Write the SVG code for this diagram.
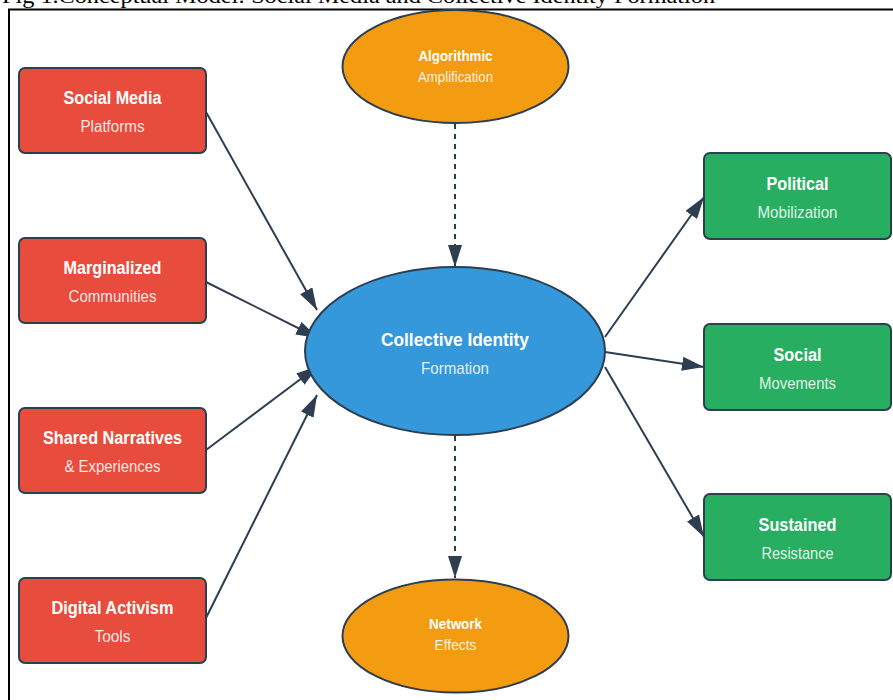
<svg xmlns="http://www.w3.org/2000/svg" width="893" height="700" viewBox="0 0 893 700">
<style>
.frame{fill:none;stroke:#000;stroke-width:2}
.caption{font-family:"Liberation Serif","Times New Roman",serif;font-size:20px;fill:#000}
.box{stroke:#2c3e50;stroke-width:2}
.red{fill:#e74c3c}
.green{fill:#27ae60}
.blue{fill:#3498db;stroke:#2c3e50;stroke-width:2}
.orange{fill:#f39c12;stroke:#2c3e50;stroke-width:2}
.t{font-family:"Liberation Sans",Arial,sans-serif;fill:#fff;text-anchor:middle;font-weight:bold}
.s{font-family:"Liberation Sans",Arial,sans-serif;fill:#fff;fill-opacity:0.88;text-anchor:middle}
.bt{font-size:18px}
.bs{font-size:16.5px}
.et{font-size:14px}
.es{font-size:14px}
.ct{font-size:19px}
.cs{font-size:17px}
.edge{stroke:#2c3e50;stroke-width:2;fill:none}
.dash{stroke-dasharray:5,5}
</style>
<defs>
<marker id="arrow" markerUnits="userSpaceOnUse" markerWidth="22" markerHeight="14" viewBox="0 0 11 7" refX="11" refY="3.5" orient="auto">
<polygon points="0 0, 11 3.5, 0 7" fill="#2c3e50"/>
</marker>
</defs>
<rect width="893" height="700" fill="#fff"/>
<text class="caption" x="2" y="3" textLength="713" lengthAdjust="spacingAndGlyphs">Fig 1.Conceptual Model: Social Media and Collective Identity Formation</text>
<path class="frame" d="M9 701 L9 9.5 L894 9.5"/>

<g id="connectors">
<line class="edge" x1="206" y1="112" x2="317" y2="310" marker-end="url(#arrow)"/>
<line class="edge" x1="206" y1="282" x2="318" y2="338" marker-end="url(#arrow)"/>
<line class="edge" x1="206" y1="450" x2="318" y2="366" marker-end="url(#arrow)"/>
<line class="edge" x1="206" y1="618" x2="317" y2="395" marker-end="url(#arrow)"/>
<line class="edge" x1="605" y1="337" x2="704" y2="197" marker-end="url(#arrow)"/>
<line class="edge" x1="605" y1="352" x2="704" y2="367" marker-end="url(#arrow)"/>
<line class="edge" x1="605" y1="367" x2="704" y2="537" marker-end="url(#arrow)"/>
<line class="edge dash" x1="455" y1="124" x2="455" y2="267" marker-end="url(#arrow)"/>
<line class="edge dash" x1="455" y1="436" x2="455" y2="578" marker-end="url(#arrow)"/>
</g>

<g id="node-social-media">
<rect class="box red" x="19" y="68" width="187" height="85" rx="6"/>
<text class="t bt" x="112.5" y="104" textLength="98" lengthAdjust="spacingAndGlyphs">Social Media</text>
<text class="s bs" x="112.5" y="132" textLength="64" lengthAdjust="spacingAndGlyphs">Platforms</text>
</g>
<g id="node-marginalized">
<rect class="box red" x="19" y="238" width="187" height="85" rx="6"/>
<text class="t bt" x="112.5" y="274" textLength="98" lengthAdjust="spacingAndGlyphs">Marginalized</text>
<text class="s bs" x="112.5" y="302" textLength="88" lengthAdjust="spacingAndGlyphs">Communities</text>
</g>
<g id="node-shared-narratives">
<rect class="box red" x="19" y="408" width="187" height="85" rx="6"/>
<text class="t bt" x="112.5" y="444" textLength="139" lengthAdjust="spacingAndGlyphs">Shared Narratives</text>
<text class="s bs" x="112.5" y="472" textLength="96" lengthAdjust="spacingAndGlyphs">&amp; Experiences</text>
</g>
<g id="node-digital-activism">
<rect class="box red" x="19" y="578" width="187" height="85" rx="6"/>
<text class="t bt" x="112.5" y="614" textLength="122" lengthAdjust="spacingAndGlyphs">Digital Activism</text>
<text class="s bs" x="112.5" y="642" textLength="36" lengthAdjust="spacingAndGlyphs">Tools</text>
</g>

<g id="node-algorithmic">
<ellipse class="orange" cx="455.5" cy="66.5" rx="113" ry="56.5"/>
<text class="t et" x="455.5" y="61" textLength="74" lengthAdjust="spacingAndGlyphs">Algorithmic</text>
<text class="s es" x="455.5" y="82" textLength="75" lengthAdjust="spacingAndGlyphs">Amplification</text>
</g>
<g id="node-collective-identity">
<ellipse class="blue" cx="455" cy="351" rx="150" ry="84"/>
<text class="t ct" x="455" y="346" textLength="148" lengthAdjust="spacingAndGlyphs">Collective Identity</text>
<text class="s cs" x="455" y="374" textLength="68" lengthAdjust="spacingAndGlyphs">Formation</text>
</g>
<g id="node-network-effects">
<ellipse class="orange" cx="455.5" cy="636" rx="113" ry="56.5"/>
<text class="t et" x="455.5" y="629" textLength="53" lengthAdjust="spacingAndGlyphs">Network</text>
<text class="s es" x="455.5" y="650" textLength="42" lengthAdjust="spacingAndGlyphs">Effects</text>
</g>

<g id="node-political">
<rect class="box green" x="704" y="153" width="187" height="86" rx="6"/>
<text class="t bt" x="797.5" y="190" textLength="62" lengthAdjust="spacingAndGlyphs">Political</text>
<text class="s bs" x="797.5" y="218" textLength="80" lengthAdjust="spacingAndGlyphs">Mobilization</text>
</g>
<g id="node-social-movements">
<rect class="box green" x="704" y="324" width="187" height="86" rx="6"/>
<text class="t bt" x="797.5" y="361" textLength="48" lengthAdjust="spacingAndGlyphs">Social</text>
<text class="s bs" x="797.5" y="389" textLength="77" lengthAdjust="spacingAndGlyphs">Movements</text>
</g>
<g id="node-sustained-resistance">
<rect class="box green" x="704" y="494" width="187" height="86" rx="6"/>
<text class="t bt" x="797.5" y="531" textLength="78" lengthAdjust="spacingAndGlyphs">Sustained</text>
<text class="s bs" x="797.5" y="559" textLength="72" lengthAdjust="spacingAndGlyphs">Resistance</text>
</g>
</svg>
